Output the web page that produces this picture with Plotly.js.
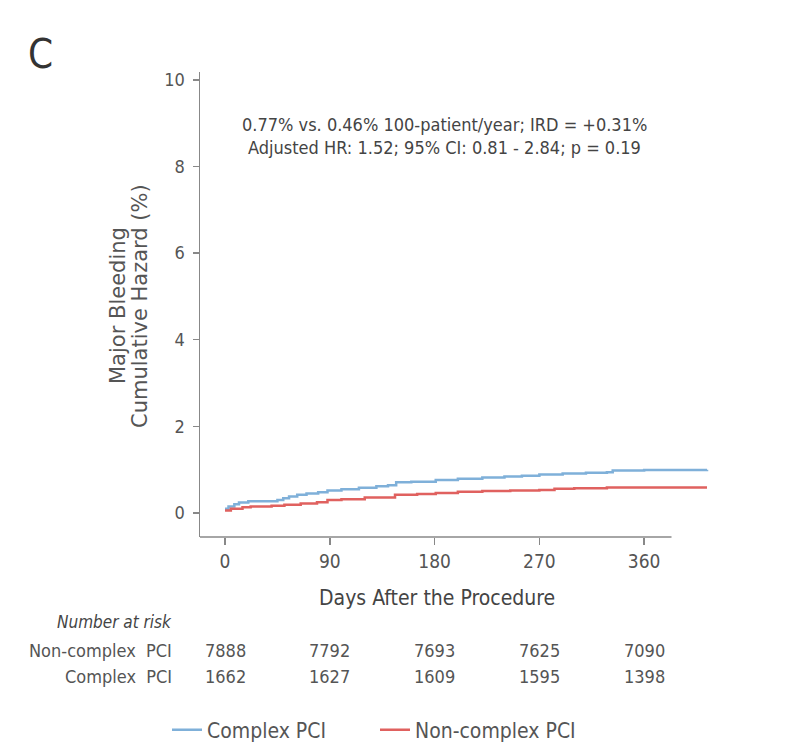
<!DOCTYPE html>
<html>
<head>
<meta charset="utf-8">
<script src="https://cdn.plot.ly/plotly-3.0.1.min.js"></script>
<style>html,body{margin:0;padding:0;background:#fff;}#chart{width:805px;height:744px;}</style>
</head>
<body>
<div id="chart"></div>
<script>
// ---- data ----
const complexDays = [0, 3, 8, 12, 20, 45, 50, 55, 62, 70, 80, 88, 100, 115, 130, 140, 147, 160, 181, 200, 221, 240, 255, 270, 290, 310, 328, 333, 360, 414];
const complexHaz  = [0.10, 0.15, 0.20, 0.24, 0.27, 0.30, 0.34, 0.38, 0.42, 0.45, 0.48, 0.52, 0.55, 0.58, 0.62, 0.64, 0.71, 0.72, 0.76, 0.79, 0.82, 0.84, 0.86, 0.89, 0.91, 0.93, 0.94, 0.98, 0.99, 1.00];
const nonComplexDays = [0, 5, 15, 22, 40, 51, 65, 79, 88, 100, 120, 146, 165, 181, 200, 221, 245, 270, 283, 300, 328, 414];
const nonComplexHaz  = [0.06, 0.10, 0.13, 0.15, 0.17, 0.19, 0.22, 0.25, 0.30, 0.32, 0.36, 0.42, 0.44, 0.46, 0.49, 0.51, 0.52, 0.53, 0.56, 0.57, 0.59, 0.59];
const xTicks = [0, 90, 180, 270, 360];
const yTicks = [0, 2, 4, 6, 8, 10];
const riskTimes = [0, 90, 180, 270, 360];
const riskNonComplex = [7888, 7792, 7693, 7625, 7090];
const riskComplex = [1662, 1627, 1609, 1595, 1398];
const seriesNames = ["Complex PCI", "Non-complex PCI"];
const statsLines = ["0.77% vs. 0.46% 100-patient/year; IRD = +0.31%", "Adjusted HR: 1.52; 95% CI: 0.81 - 2.84; p = 0.19"];

// ---- layout geometry (pixels) ----
const W = 805, H = 744;
const mL = 200, mR = 91, mT = 72, mB = 207;
const pw = W - mL - mR, ph = H - mT - mB;
const px2paperX = p => (p - mL) / pw;
const px2paperY = p => (H - mB - p) / ph;

const FONT = '"DejaVu Sans Condensed", "Noto Sans", sans-serif';
const WIDE = '"DejaVu Sans", "Noto Sans", sans-serif';
const blue = '#7fb0d9', red = '#e0615f';

const traces = [
  {x: complexDays, y: complexHaz, name: seriesNames[0], mode: 'lines', line: {shape: 'hv', color: blue, width: 2.5}, legend: 'legend'},
  {x: nonComplexDays, y: nonComplexHaz, name: seriesNames[1], mode: 'lines', line: {shape: 'hv', color: red, width: 2.5}, legend: 'legend2'}
];

const annotations = [];
annotations.push({xref: 'paper', yref: 'paper', x: px2paperX(40), y: px2paperY(54), text: 'C', showarrow: false,
  font: {family: FONT, size: 40, color: '#333'}, xanchor: 'center', yanchor: 'middle'});
statsLines.forEach((t, i) => annotations.push({xref: 'paper', yref: 'paper', x: px2paperX(444), y: px2paperY(124 + 23 * i),
  text: t, showarrow: false, font: {family: FONT, size: 18, color: '#444'}, xanchor: 'center', yanchor: 'middle'}));
annotations.push({xref: 'paper', yref: 'paper', x: px2paperX(118), y: px2paperY(306), text: 'Major Bleeding', textangle: -90,
  showarrow: false, font: {family: WIDE, size: 21, color: '#555'}, xanchor: 'center', yanchor: 'middle'});
annotations.push({xref: 'paper', yref: 'paper', x: px2paperX(140), y: px2paperY(306), text: 'Cumulative Hazard (%)', textangle: -90,
  showarrow: false, font: {family: WIDE, size: 21, color: '#555'}, xanchor: 'center', yanchor: 'middle'});
annotations.push({xref: 'paper', yref: 'paper', x: px2paperX(437), y: px2paperY(598), text: 'Days After the Procedure',
  showarrow: false, font: {family: FONT, size: 21, color: '#444'}, xanchor: 'center', yanchor: 'middle'});
annotations.push({xref: 'paper', yref: 'paper', x: px2paperX(174), y: px2paperY(622), text: '<i>Number at risk</i>',
  showarrow: false, font: {family: FONT, size: 17, color: '#444'}, xanchor: 'right', yanchor: 'middle'});
annotations.push({xref: 'paper', yref: 'paper', x: px2paperX(174), y: px2paperY(650), text: 'Non-complex  PCI',
  showarrow: false, font: {family: FONT, size: 18, color: '#555'}, xanchor: 'right', yanchor: 'middle'});
annotations.push({xref: 'paper', yref: 'paper', x: px2paperX(174), y: px2paperY(676), text: 'Complex  PCI',
  showarrow: false, font: {family: FONT, size: 18, color: '#555'}, xanchor: 'right', yanchor: 'middle'});
riskTimes.forEach((t, i) => {
  annotations.push({xref: 'x', yref: 'paper', x: t, y: px2paperY(650), text: String(riskNonComplex[i]),
    showarrow: false, font: {family: FONT, size: 18, color: '#555'}, xanchor: 'center', yanchor: 'middle'});
  annotations.push({xref: 'x', yref: 'paper', x: t, y: px2paperY(676), text: String(riskComplex[i]),
    showarrow: false, font: {family: FONT, size: 18, color: '#555'}, xanchor: 'center', yanchor: 'middle'});
});

const legendBase = {orientation: 'h', xanchor: 'left', yanchor: 'middle', y: px2paperY(730),
  font: {family: FONT, size: 21, color: '#555'}, itemwidth: 30, bgcolor: 'rgba(0,0,0,0)', borderwidth: 0};

const layout = {
  width: W, height: H,
  margin: {l: mL, r: mR, t: mT, b: mB, pad: 0, autoexpand: false},
  paper_bgcolor: '#fff', plot_bgcolor: '#fff',
  showlegend: true,
  legend: Object.assign({}, legendBase, {x: px2paperX(167)}),
  legend2: Object.assign({}, legendBase, {x: px2paperX(375)}),
  xaxis: {range: [-21.5, 420], tickvals: xTicks, ticktext: xTicks.map(String), ticks: 'outside', ticklen: 7, tickwidth: 1.5,
    tickcolor: '#888', showline: false, zeroline: false, showgrid: false,
    tickfont: {family: FONT, size: 19, color: '#555'}, fixedrange: true},
  yaxis: {range: [-0.554, 10.18], tickvals: yTicks, ticktext: yTicks.map(String), ticks: 'outside', ticklen: 6, tickwidth: 1.5,
    tickcolor: '#888', showline: true, linecolor: '#888', linewidth: 1.5, zeroline: false, showgrid: false,
    tickfont: {family: FONT, size: 18, color: '#555'}, ticklabelstandoff: 4, fixedrange: true},
  shapes: [
    {type: 'line', xref: 'x', yref: 'paper', x0: -21.5, x1: 383.5, y0: 0, y1: 0, line: {color: '#888', width: 1.5}}
  ],
  annotations: annotations
};

Plotly.newPlot('chart', traces, layout, {displayModeBar: false, staticPlot: true});
</script>
</body>
</html>
